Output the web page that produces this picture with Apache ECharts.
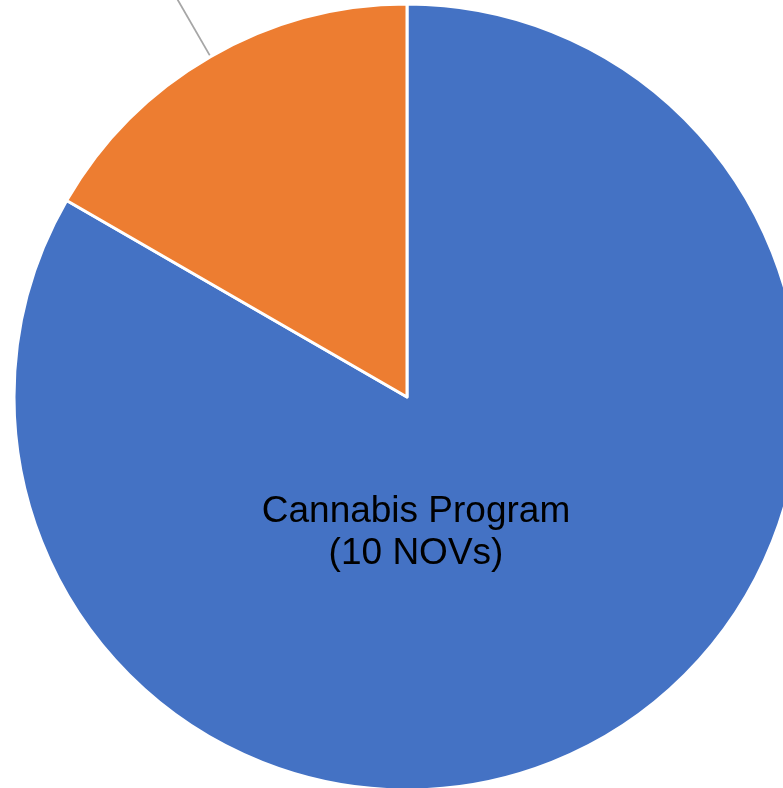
<!DOCTYPE html>
<html>
<head>
<meta charset="utf-8">
<script src="https://cdn.jsdelivr.net/npm/echarts@6/dist/echarts.min.js"></script>
<style>
html,body{margin:0;padding:0;background:#fff;}
#chart{width:783px;height:788px;}
</style>
</head>
<body>
<div id="chart"></div>
<script>
const categories = ['Cannabis Program', 'Other Programs'];
const novCounts = [10, 2];
const sliceColors = ['#4472C4', '#ED7D31'];

const chart = echarts.init(document.getElementById('chart'), null, {renderer: 'canvas'});

const data = categories.map((name, i) => {
  const item = {
    name: name,
    value: novCounts[i],
    itemStyle: {color: sliceColors[i]}
  };
  if (i === 0) {
    item.label = {
      position: 'center',
      offset: [9, 136]
    };
    item.labelLine = {show: false};
  } else {
    item.label = {position: 'outside'};
    item.labelLine = {show: true, length: 190, length2: 0, lineStyle: {color: '#A6A6A6', width: 1.8}};
  }
  return item;
});

chart.setOption({
  animation: false,
  series: [{
    type: 'pie',
    center: [407, 397],
    radius: [0, 393],
    startAngle: 90,
    clockwise: true,
    avoidLabelOverlap: false,
    itemStyle: {borderColor: '#ffffff', borderWidth: 3},
    label: {
      show: true,
      formatter: p => p.name + '\n(' + p.value + ' NOVs)',
      fontFamily: 'Liberation Sans, Arial, sans-serif',
      fontSize: 37,
      lineHeight: 42,
      color: '#000000',
      align: 'center'
    },
    emphasis: {disabled: true},
    data: data
  }]
});
</script>
</body>
</html>
